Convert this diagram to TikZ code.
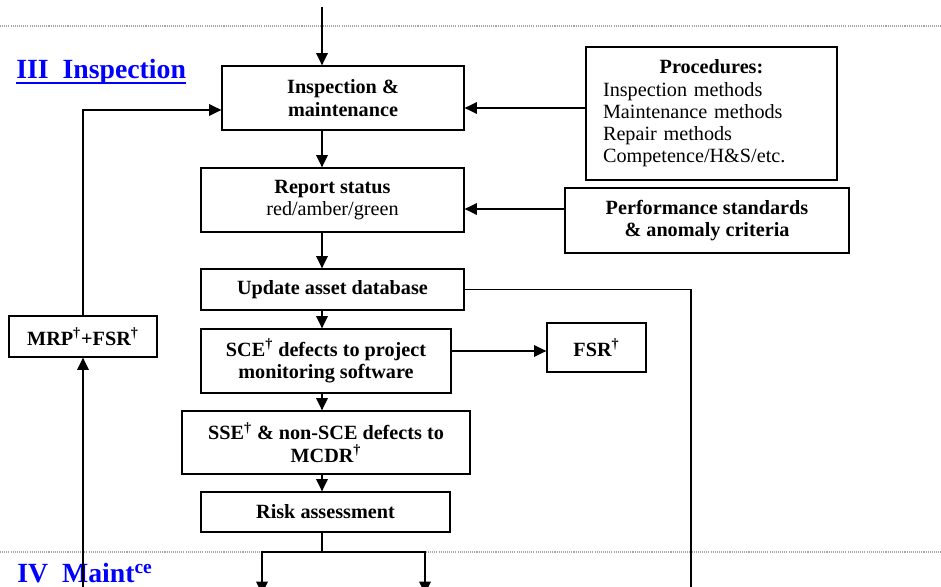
\documentclass[tikz,border=0pt]{standalone}
\usepackage{fontspec}
\setmainfont{Liberation Serif}
\usetikzlibrary{arrows.meta}
\usetikzlibrary{positioning}

\begin{document}
\begin{tikzpicture}[x=0.02cm,y=-0.02cm,
    box/.style={draw,line width=0.7pt,inner sep=0pt,align=center,font=\fontsize{11.5}{12.7}\selectfont\bfseries},
    arr/.style={line width=1pt,-{Triangle[length=7pt,width=6.5pt]}},
    ln/.style={line width=1pt},
    sep/.style={gray!70,line width=0.6pt,dash pattern=on 0.6pt off 0.6pt},
    title/.style={text=blue,inner sep=0pt,font=\fontsize{15.8}{17}\selectfont\bfseries}]
    \clip (0,0) rectangle (941,587);
    \draw[sep] (0,26) -- (941,26) (0,552) -- (941,552);
    \node[title,anchor=base west] (sec3) at (16,79) {III\ \ Inspection};
    \draw[blue,line width=1.1pt] ([yshift=-2.4pt]sec3.base west) -- ([yshift=-2.4pt]sec3.base east);
    \node[title,anchor=base west] (sec4) at (17,583) {IV\ \ Maint\textsuperscript{ce}};
    \node[box,minimum width=4.84cm,minimum height=1.28cm] (insp) at (343,98) {Inspection \&\\maintenance};
    \node[box,minimum width=5.26cm,minimum height=1.28cm] (report) at (332.5,200) {Report status\\\mdseries red/amber/green};
    \node[box,minimum width=5.26cm,minimum height=0.82cm] (upd) at (332.5,289.5) {Update asset database};
    \node[box,minimum width=5cm,minimum height=1.28cm] (sce) at (326,361) {SCE\textsuperscript{\dag} defects to project\\monitoring software};
    \node[box,minimum width=5.76cm,minimum height=1.26cm] (sse) at (326,442.5) {SSE\textsuperscript{\dag} \& non-SCE defects to\\MCDR\textsuperscript{\dag}};
    \node[box,minimum width=4.98cm,minimum height=0.8cm] (risk) at (325.5,512) {Risk assessment};
    \node[box,minimum width=1.98cm,minimum height=0.98cm] (fsr) at (596.5,347.5) {FSR\textsuperscript{\dag}};
    \node[box,minimum width=2.96cm,minimum height=0.82cm] (mrp) at (83,336.5) {MRP\textsuperscript{\dag}+FSR\textsuperscript{\dag}};
    \node[box,minimum width=5.68cm,minimum height=1.3cm] (perf) at (707,220.5) {Performance standards\\\& anomaly criteria};
    \node[box,minimum height=2.66cm,inner xsep=0.34cm,text width=4.34cm,align=left,font=\fontsize{11.5}{12.7}\selectfont] (proc) at (711.5,113.5)
      {\makebox[\linewidth]{\bfseries Procedures:}\\Inspection methods\\Maintenance methods\\Repair methods\\Competence/H\&S/etc.};
    \coordinate (spine) at (322,7);
    \coordinate (outA) at (262,594);
    \coordinate (outB) at (425,594);
    \coordinate (outC) at (691,594);
    \coordinate (inM) at (83,594);
    \draw[arr] (spine) -- (insp.north -| spine);
    \draw[arr] (insp.south -| spine) -- (report.north -| spine);
    \draw[arr] (report.south -| spine) -- (upd.north -| spine);
    \draw[arr] (upd.south -| spine) -- (sce.north -| spine);
    \draw[arr] (sce.south -| spine) -- (sse.north -| spine);
    \draw[arr] (sse.south -| spine) -- (risk.north -| spine);
    \draw[ln] (risk.south -| spine) -- (spine |- 0,552) coordinate (split);
    \draw[arr] (split) -| (outA);
    \draw[arr] (split) -| (outB);
    \draw[line width=0.7pt] (upd.east) -| (outC);
    \draw[arr] (proc.west |- 0,108) -- (insp.east |- 0,108);
    \draw[arr] (perf.west |- 0,209) -- (report.east |- 0,209);
    \draw[arr] (sce.east |- 0,351) -- (fsr.west |- 0,351);
    \draw[arr] (inM) -- (mrp.south);
    \draw[arr] (mrp.north) |- ([yshift=-0.24cm]insp.west);
  \end{tikzpicture}
\end{document}
